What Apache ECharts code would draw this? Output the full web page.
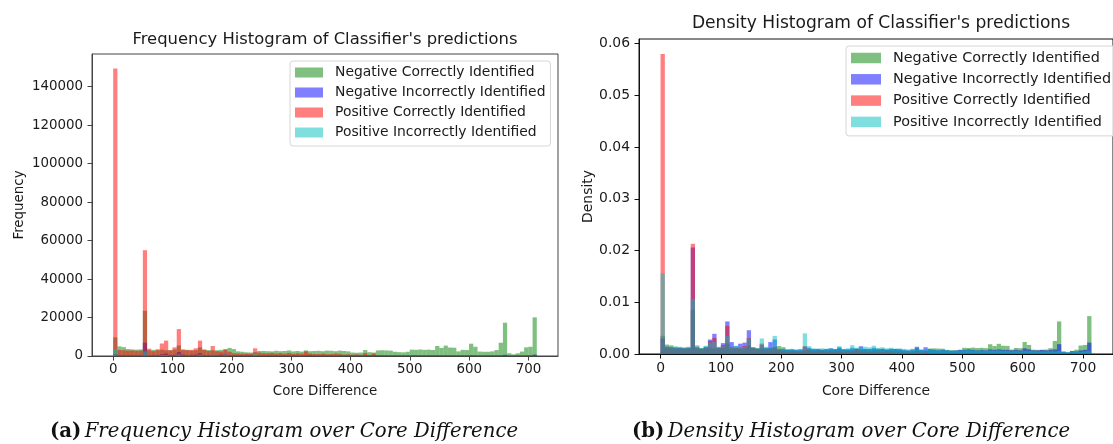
<!DOCTYPE html>
<html>
<head>
<meta charset="utf-8">
<script src="https://cdn.jsdelivr.net/npm/echarts@6/dist/echarts.min.js"></script>
<style>
  html, body { margin: 0; padding: 0; background: #fff; }
  #chart { width: 1113px; height: 444px; }
</style>
</head>
<body>
<div id="chart"></div>
<script>
// Histogram bins over the core difference
const BIN_MIN = 0;
const BIN_MAX = 714;
const BIN_COUNT = 100;

const X_TICKS = [0, 100, 200, 300, 400, 500, 600, 700];
const Y_TICKS_FREQ = [0, 20000, 40000, 60000, 80000, 100000, 120000, 140000];
const Y_TICKS_DENS = [0, 0.01, 0.02, 0.03, 0.04, 0.05, 0.06];

const SERIES_NAMES = [
  'Negative Correctly Identified',
  'Negative Incorrectly Identified',
  'Positive Correctly Identified',
  'Positive Incorrectly Identified'
];

// Per-bin counts
const negCorrectCounts = [
  9700, 5000, 4600, 3600, 3400, 3300, 3400, 23500, 3000, 3200,
  3000, 3300, 3000, 3000, 3400, 5500, 3000, 3200, 2800, 3000,
  4500, 3300, 3100, 3000, 3000, 3200, 3400, 4200, 3600, 2400,
  2200, 1900, 1800, 2000, 2600, 2600, 2500, 2400, 2700, 2500,
  2600, 2900, 2400, 2600, 2300, 2900, 2500, 2600, 2700, 2500,
  2800, 2700, 2500, 2800, 2600, 2400, 1800, 1700, 1800, 3100,
  2000, 1800, 2900, 3000, 2900, 2800, 2200, 2000, 1900, 2200,
  3300, 3200, 3400, 3200, 3300, 3100, 5200, 4200, 5400, 4400,
  4300, 2400, 3200, 3100, 6400, 4800, 2300, 2200, 2200, 2400,
  3100, 6900, 17300, 1400, 900, 1400, 2300, 4500, 4800, 20100
];
const negIncorrectCounts = [
  1000, 470, 440, 400, 400, 370, 400, 6900, 440, 340,
  470, 940, 1310, 440, 700, 2110, 770, 500, 670, 740,
  1540, 400, 340, 600, 400, 770, 940, 300, 300, 270,
  300, 270, 300, 470, 400, 300, 340, 270, 300, 370,
  300, 440, 300, 270, 400, 340, 500, 340, 300, 400,
  300, 340, 270, 300, 340, 300, 270, 240, 300, 470,
  270, 440, 300, 270, 240, 270, 240, 200, 240, 270,
  270, 300, 270, 240, 270, 240, 300, 270, 300, 270,
  270, 240, 270, 240, 370, 300, 240, 240, 270, 240,
  270, 300, 640, 130, 100, 200, 170, 240, 270, 740
];
const posCorrectCounts = [
  149500, 3100, 3000, 2800, 2900, 2700, 2800, 55000, 3800, 2500,
  3500, 6500, 8000, 3000, 4500, 14000, 3500, 3000, 3200, 4000,
  8000, 3300, 2600, 5200, 2500, 2300, 3500, 2200, 1400, 1300,
  1200, 1300, 1200, 4000, 1800, 1500, 1400, 1600, 1300, 1500,
  1200, 1600, 1100, 1400, 1200, 2400, 1300, 1100, 1000, 1200,
  900, 1000, 1300, 1100, 700, 900, 700, 800, 600, 1500,
  600, 1300, 500, 400, 400, 300, 300, 300, 300, 200,
  200, 300, 200, 200, 300, 200, 200, 200, 200, 200,
  200, 200, 200, 200, 200, 200, 100, 100, 200, 200,
  200, 200, 300, 100, 100, 100, 100, 100, 200, 300
];
const posIncorrectCounts = [
  3590, 320, 300, 350, 320, 300, 320, 2440, 390, 250,
  370, 510, 550, 320, 350, 810, 320, 370, 300, 320,
  690, 300, 250, 690, 320, 300, 810, 230, 230, 210,
  230, 210, 230, 920, 350, 250, 230, 250, 230, 250,
  230, 350, 230, 250, 390, 280, 280, 320, 300, 370,
  280, 300, 250, 280, 230, 250, 230, 210, 230, 250,
  210, 180, 210, 180, 160, 180, 160, 160, 140, 160,
  160, 180, 160, 140, 160, 140, 160, 140, 160, 140,
  140, 120, 140, 120, 140, 140, 120, 120, 120, 120,
  120, 120, 140, 90, 70, 90, 90, 90, 120, 140
];

// Per-bin densities
const negCorrectDensity = [
  0.00353, 0.00182, 0.00167, 0.00131, 0.00124, 0.00120, 0.00124, 0.00855, 0.00109, 0.00116,
  0.00109, 0.00120, 0.00109, 0.00109, 0.00124, 0.00200, 0.00109, 0.00116, 0.00102, 0.00109,
  0.00164, 0.00120, 0.00113, 0.00109, 0.00109, 0.00116, 0.00124, 0.00153, 0.00131, 0.00087,
  0.00080, 0.00069, 0.00066, 0.00073, 0.00095, 0.00095, 0.00091, 0.00087, 0.00098, 0.00091,
  0.00095, 0.00106, 0.00087, 0.00095, 0.00084, 0.00106, 0.00091, 0.00095, 0.00098, 0.00091,
  0.00102, 0.00098, 0.00091, 0.00102, 0.00095, 0.00087, 0.00066, 0.00062, 0.00066, 0.00113,
  0.00073, 0.00066, 0.00106, 0.00109, 0.00106, 0.00102, 0.00080, 0.00073, 0.00069, 0.00080,
  0.00120, 0.00116, 0.00124, 0.00116, 0.00120, 0.00113, 0.00189, 0.00153, 0.00197, 0.00160,
  0.00157, 0.00087, 0.00116, 0.00113, 0.00233, 0.00175, 0.00084, 0.00080, 0.00080, 0.00087,
  0.00113, 0.00251, 0.00630, 0.00051, 0.00033, 0.00051, 0.00084, 0.00164, 0.00175, 0.00732
];
const negIncorrectDensity = [
  0.0030, 0.0014, 0.0013, 0.0012, 0.0012, 0.0011, 0.0012, 0.0206, 0.0013, 0.0010,
  0.0014, 0.0028, 0.0039, 0.0013, 0.0021, 0.0063, 0.0023, 0.0015, 0.0020, 0.0022,
  0.0046, 0.0012, 0.0010, 0.0018, 0.0012, 0.0023, 0.0028, 0.0009, 0.0009, 0.0008,
  0.0009, 0.0008, 0.0009, 0.0014, 0.0012, 0.0009, 0.0010, 0.0008, 0.0009, 0.0011,
  0.0009, 0.0013, 0.0009, 0.0008, 0.0012, 0.0010, 0.0015, 0.0010, 0.0009, 0.0012,
  0.0009, 0.0010, 0.0008, 0.0009, 0.0010, 0.0009, 0.0008, 0.0007, 0.0009, 0.0014,
  0.0008, 0.0013, 0.0009, 0.0008, 0.0007, 0.0008, 0.0007, 0.0006, 0.0007, 0.0008,
  0.0008, 0.0009, 0.0008, 0.0007, 0.0008, 0.0007, 0.0009, 0.0008, 0.0009, 0.0008,
  0.0008, 0.0007, 0.0008, 0.0007, 0.0011, 0.0009, 0.0007, 0.0007, 0.0008, 0.0007,
  0.0008, 0.0009, 0.0019, 0.0004, 0.0003, 0.0006, 0.0005, 0.0007, 0.0008, 0.0022
];
const posCorrectDensity = [
  0.0580, 0.00120, 0.00116, 0.00109, 0.00112, 0.00105, 0.00109, 0.0213, 0.00147, 0.00097,
  0.00136, 0.00252, 0.00310, 0.00116, 0.00174, 0.00543, 0.00136, 0.00116, 0.00124, 0.00155,
  0.00310, 0.00128, 0.00101, 0.00202, 0.00097, 0.00089, 0.00136, 0.00085, 0.00054, 0.00050,
  0.00047, 0.00050, 0.00047, 0.00155, 0.00070, 0.00058, 0.00054, 0.00062, 0.00050, 0.00058,
  0.00047, 0.00062, 0.00043, 0.00054, 0.00047, 0.00093, 0.00050, 0.00043, 0.00039, 0.00047,
  0.00035, 0.00039, 0.00050, 0.00043, 0.00027, 0.00035, 0.00027, 0.00031, 0.00023, 0.00058,
  0.00023, 0.00050, 0.00019, 0.00016, 0.00016, 0.00012, 0.00012, 0.00012, 0.00012, 0.00008,
  0.00008, 0.00012, 0.00008, 0.00008, 0.00012, 0.00008, 0.00008, 0.00008, 0.00008, 0.00008,
  0.00008, 0.00008, 0.00008, 0.00008, 0.00008, 0.00008, 0.00004, 0.00004, 0.00008, 0.00008,
  0.00008, 0.00008, 0.00012, 0.00004, 0.00004, 0.00004, 0.00004, 0.00004, 0.00008, 0.00012
];
const posIncorrectDensity = [
  0.0156, 0.0014, 0.0013, 0.0015, 0.0014, 0.0013, 0.0014, 0.0106, 0.0017, 0.0011,
  0.0016, 0.0022, 0.0024, 0.0014, 0.0015, 0.0035, 0.0014, 0.0016, 0.0013, 0.0014,
  0.0030, 0.0013, 0.0011, 0.0030, 0.0014, 0.0013, 0.0035, 0.0010, 0.0010, 0.0009,
  0.0010, 0.0009, 0.0010, 0.0040, 0.0015, 0.0011, 0.0010, 0.0011, 0.0010, 0.0011,
  0.0010, 0.0015, 0.0010, 0.0011, 0.0017, 0.0012, 0.0012, 0.0014, 0.0013, 0.0016,
  0.0012, 0.0013, 0.0011, 0.0012, 0.0010, 0.0011, 0.0010, 0.0009, 0.0010, 0.0011,
  0.0009, 0.0008, 0.0009, 0.0008, 0.0007, 0.0008, 0.0007, 0.0007, 0.0006, 0.0007,
  0.0007, 0.0008, 0.0007, 0.0006, 0.0007, 0.0006, 0.0007, 0.0006, 0.0007, 0.0006,
  0.0006, 0.0005, 0.0006, 0.0005, 0.0006, 0.0006, 0.0005, 0.0005, 0.0005, 0.0005,
  0.0005, 0.0005, 0.0006, 0.0004, 0.0003, 0.0004, 0.0004, 0.0004, 0.0005, 0.0006
];

// Half-transparent fills, drawn in legend order so later series sit on top
const SERIES_COLORS = [
  'rgba(0, 128, 0, 0.5)',
  'rgba(0, 0, 255, 0.5)',
  'rgba(255, 0, 0, 0.5)',
  'rgba(0, 191, 191, 0.5)'
];

const FONT = 'DejaVu Sans';
const TEXT = '#1a1a1a';

const binWidth = (BIN_MAX - BIN_MIN) / BIN_COUNT;
const xPad = 0.05 * (BIN_MAX - BIN_MIN);

function toBins(values) {
  return values.map((v, i) => [BIN_MIN + i * binWidth, BIN_MIN + (i + 1) * binWidth, v]);
}

function histSeries(name, color, values, axisIndex) {
  return {
    type: 'custom',
    name: name,
    xAxisIndex: axisIndex,
    yAxisIndex: axisIndex,
    itemStyle: { color: color },
    encode: { x: [0, 1], y: 2 },
    data: toBins(values),
    silent: true,
    renderItem: function (params, api) {
      const p0 = api.coord([api.value(0), 0]);
      const p1 = api.coord([api.value(1), api.value(2)]);
      return {
        type: 'rect',
        shape: { x: p0[0], y: p1[1], width: p1[0] - p0[0], height: p0[1] - p1[1] },
        style: { fill: color }
      };
    }
  };
}

const freqSets = [negCorrectCounts, negIncorrectCounts, posCorrectCounts, posIncorrectCounts];
const densSets = [negCorrectDensity, negIncorrectDensity, posCorrectDensity, posIncorrectDensity];

const freqMax = 1.05 * Math.max(...freqSets.map(a => Math.max(...a)));
const densMax = 1.05 * Math.max(...densSets.map(a => Math.max(...a)));

function xAxisFor(idx, fs, gap, lineColor) {
  return {
    type: 'value', gridIndex: idx,
    min: BIN_MIN - xPad, max: BIN_MAX + xPad,
    name: 'Core Difference', nameLocation: 'middle', nameGap: gap,
    nameTextStyle: { fontFamily: FONT, fontSize: fs, color: TEXT },
    axisLine: { show: true, onZero: false, lineStyle: { color: lineColor, width: 1 } },
    axisTick: { show: true, length: 4.5, customValues: X_TICKS, lineStyle: { color: lineColor, width: 1 } },
    axisLabel: { customValues: X_TICKS, margin: 7, fontFamily: FONT, fontSize: fs, color: TEXT },
    splitLine: { show: false }
  };
}

function yAxisFor(idx, name, ticks, maxV, fs, gap, lineColor, fmt) {
  return {
    type: 'value', gridIndex: idx,
    min: 0, max: maxV,
    name: name, nameLocation: 'middle', nameGap: gap, nameRotate: 90,
    nameTextStyle: { fontFamily: FONT, fontSize: fs, color: TEXT },
    axisLine: { show: true, onZero: false, lineStyle: { color: lineColor, width: 1 } },
    axisTick: { show: true, length: 4.5, customValues: ticks, lineStyle: { color: lineColor, width: 1 } },
    axisLabel: { customValues: ticks, margin: 9, fontFamily: FONT, fontSize: fs, color: TEXT, formatter: fmt },
    splitLine: { show: false }
  };
}

function legendFor(left, top, fs, iw, ih, gap, lh) {
  return {
    orient: 'vertical', left: left, top: top,
    icon: 'rect', itemWidth: iw, itemHeight: ih, itemGap: gap,
    selectedMode: false,
    padding: [4, 5, 6, 5],
    borderColor: '#d6d6d6', borderWidth: 1, borderRadius: 3,
    backgroundColor: 'rgba(255,255,255,0.8)',
    textStyle: { fontFamily: FONT, fontSize: fs, color: TEXT, lineHeight: lh, padding: [0, 0, 0, 7] },
    data: SERIES_NAMES
  };
}

const series = [];
SERIES_NAMES.forEach((n, i) => series.push(histSeries(n, SERIES_COLORS[i], freqSets[i], 0)));
SERIES_NAMES.forEach((n, i) => series.push(histSeries(n, SERIES_COLORS[i], densSets[i], 1)));

const captionRich = {
  a: { fontFamily: 'DejaVu Serif', fontWeight: 'bold', fontSize: 19.7, fill: '#111' },
  b: { fontFamily: 'DejaVu Serif', fontStyle: 'italic', fontSize: 19.7, fill: '#111' }
};

const option = {
  animation: false,
  backgroundColor: '#fff',
  grid: [
    { left: 92, top: 54, width: 466, height: 302, show: true, borderColor: '#444', borderWidth: 1, backgroundColor: 'transparent' },
    { left: 639, top: 39, width: 485, height: 315, show: true, borderColor: '#111', borderWidth: 1, backgroundColor: 'transparent' }
  ],
  xAxis: [
    xAxisFor(0, 13.4, 29, '#444'),
    xAxisFor(1, 13.9, 30, '#111')
  ],
  yAxis: [
    yAxisFor(0, 'Frequency', Y_TICKS_FREQ, freqMax, 13.4, 66, '#444', v => String(Math.round(v))),
    yAxisFor(1, 'Density', Y_TICKS_DENS, densMax, 13.9, 44, '#111', v => v.toFixed(2))
  ],
  legend: [
    legendFor(290, 61, 13.9, 28, 10, 5, 15),
    legendFor(846, 46, 14.4, 30, 10.5, 5.3, 16)
  ],
  graphic: [
    { type: 'text', x: 325, y: 40, style: { text: "Frequency Histogram of Classifier's predictions", fontFamily: FONT, fontSize: 16.4, fill: TEXT, align: 'center', verticalAlign: 'middle' } },
    { type: 'text', x: 881, y: 24, style: { text: "Density Histogram of Classifier's predictions", fontFamily: FONT, fontSize: 17.1, fill: TEXT, align: 'center', verticalAlign: 'middle' } },
    { type: 'text', x: 284, y: 432, style: { text: '{a|(a)} {b|Frequency Histogram over Core Difference}', rich: captionRich, align: 'center', verticalAlign: 'middle' } },
    { type: 'text', x: 851, y: 432, style: { text: '{a|(b)} {b|Density Histogram over Core Difference}', rich: captionRich, align: 'center', verticalAlign: 'middle' } }
  ],
  series: series
};

const chart = echarts.init(document.getElementById('chart'), null, { renderer: 'canvas' });
chart.setOption(option);
</script>
</body>
</html>
